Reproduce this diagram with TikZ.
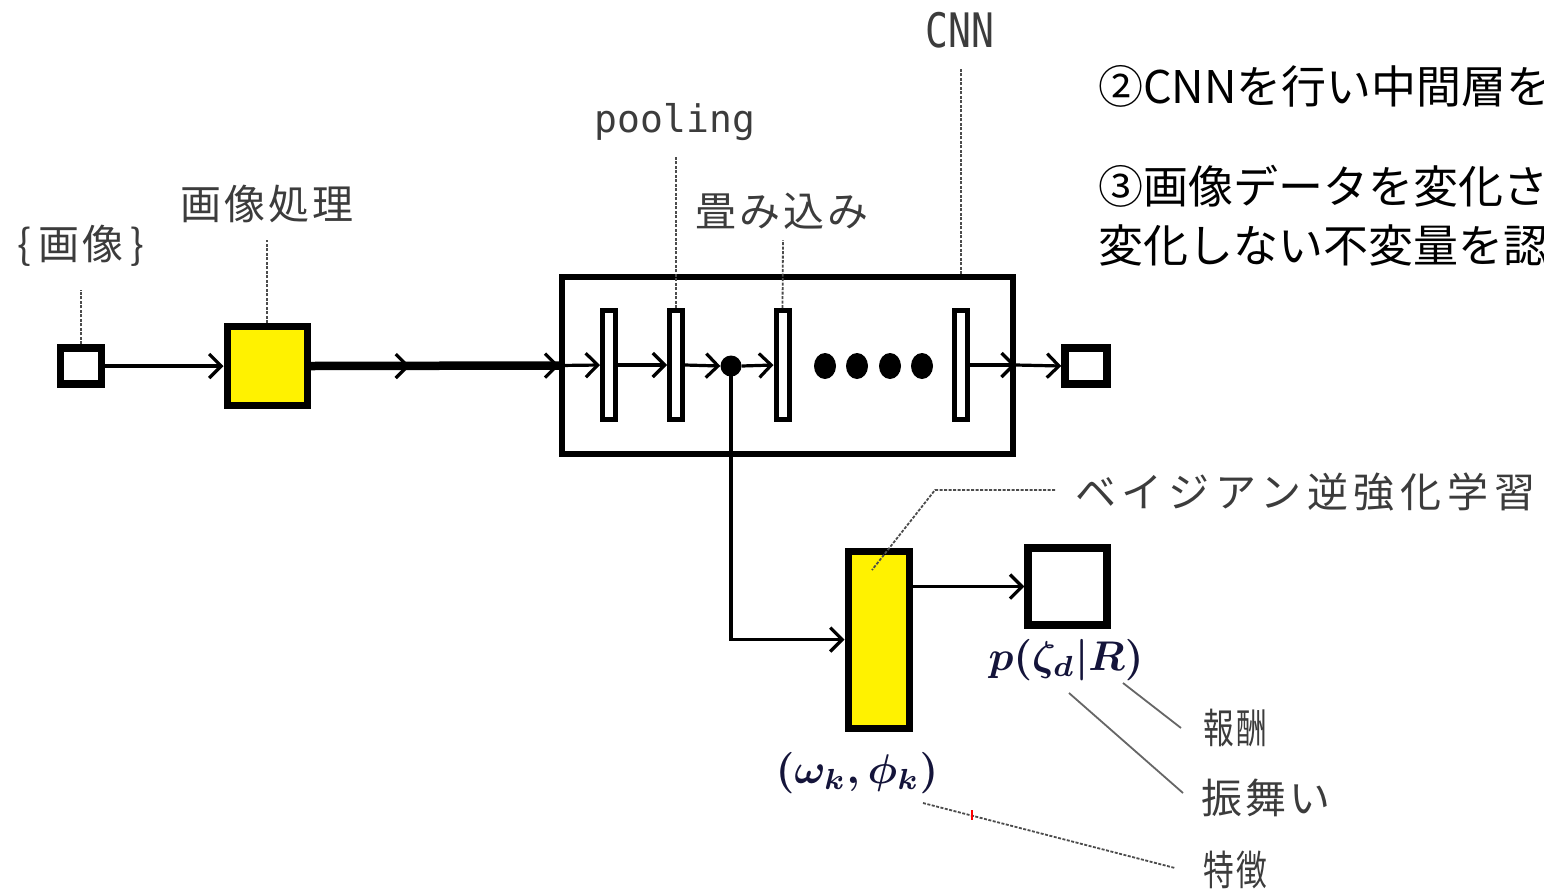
\documentclass[tikz,border=0pt]{standalone}
\usepackage{fontspec}
\newfontfamily\jp{Noto Sans CJK JP}
\newfontfamily\jpsp[LetterSpace=8]{Noto Sans CJK JP}
\newfontfamily\mono{DejaVu Sans Mono}
\usetikzlibrary{arrows.meta,calc,shapes.geometric}
\definecolor{lblgray}{HTML}{3C3C3C}
\definecolor{mathnavy}{HTML}{14143A}
\tikzset{
  bx/.style={draw=black, line width=7.5pt, inner sep=0pt, fill=white},
  ybx/.style={bx, fill=yellow, line width=7pt},
  barbox/.style={draw=black, line width=5pt, fill=white, inner sep=0pt, minimum width=13pt, minimum height=109pt},
  arr/.style={line width=3.2pt, -{Straight Barb[length=12pt,width=24pt,line width=3.2pt]}},
  lead/.style={draw=black!70, line width=1.8pt, dash pattern=on 3pt off 1.5pt},
  solidlead/.style={draw=black!60, line width=1.8pt},
  lbl/.style={text=lblgray, font=\jpsp\fontsize{41}{44}\selectfont, inner sep=0pt},
  monolbl/.style={text=lblgray, font=\mono\fontsize{38}{42}\selectfont, inner sep=0pt},
  rtxt/.style={text=black, font=\jp\fontsize{45}{48}\selectfont, inner sep=0pt, anchor=west},
  mathlbl/.style={text=mathnavy, font=\fontsize{10}{12}\selectfont\boldmath, inner sep=0pt, scale=4.15},
  bigdot/.style={ellipse, fill=black, inner sep=0pt, minimum width=22pt, minimum height=26pt},
}
\begin{document}
\begin{tikzpicture}[x=1pt,y=-1pt]
\useasboundingbox (0,0) rectangle (1544,895);
\clip (0,0) rectangle (1544,895);
\fill[white] (0,0) rectangle (1544,895);

% main boxes
\node[bx, minimum width=41pt, minimum height=36pt] (in) at (81,366) {};
\node[ybx, minimum width=80pt, minimum height=79pt] (yb) at (267,366) {};
\node[draw=black, line width=5.5pt, inner sep=0pt, minimum width=451pt, minimum height=177pt] (cnn) at (787.5,365.5) {};
\node[barbox] (b1) at (609,365) {};
\node[barbox] (b2) at (676,365) {};
\node[barbox] (b3) at (782.5,365) {};
\node[barbox] (b4) at (961,365) {};
\node[circle, fill=black, inner sep=0pt, minimum size=21pt] (dot) at (731,366) {};
\node[bigdot] (d1) at (825,366) {};
\node[bigdot] (d2) at (857,366) {};
\node[bigdot] (d3) at (890,366) {};
\node[bigdot] (d4) at (922,366) {};
\node[bx, minimum width=42pt, minimum height=36pt] (out) at (1086,366) {};
\node[ybx, minimum width=61pt, minimum height=177pt] (yb2) at (878.5,639.5) {};
\node[bx, minimum width=79pt, minimum height=77pt] (wb) at (1067.5,586.5) {};

% connectors
\coordinate (m1) at (410,366);
\draw[arr] (in) -- (yb);
\draw[line width=8.5pt] (yb.east) -- (cnn.west);
\draw[arr] (yb.east) -- (m1);
\draw[arr] (m1) -- (cnn.west);
\draw[arr] (cnn.west) -- (b1.west);
\draw[arr] (b1.east) -- (b2.west);
\draw[arr] (b2.east) -- (dot.west);
\draw[arr] (dot.east) -- (b3.west);
\draw[arr] (b4.east) -- (b4.east -| cnn.east);
\draw[arr] (b4.east -| cnn.east) -- (out.west);
\draw[arr] (dot.center) |- (yb2.west);
\draw[arr] (yb2.east |- wb.west) -- (wb.west);

% labels top-left
\node[lbl] (limg) at (81,246) {\{\hspace{7pt}画\hspace{3pt}像\hspace{7pt}\}};
\node[lbl] (lproc) at (267,204) {画像処理};
\node[monolbl] (lpool) at (675,122) {pooling};
\node[lbl] (lconv) at (782,211) {畳み込み};
\node[text=lblgray, font=\mono\fontsize{38}{42}\selectfont, inner sep=0pt, yscale=1.25] (lcnn) at (960,30) {CNN};

% leaders top
\draw[lead] (in.north) -- (81,290);
\draw[lead] (yb.north) -- (267,240);
\draw[lead] (b2.north) -- (676,155);
\draw[lead] (b3.north) -- (783,240);
\draw[lead] (b4.north |- cnn.north) -- (961,68);

% right text (cut off at the right edge, as in the reference)
\node[rtxt] (t1) at (1098,86) {②CNNを行い中間層を};
\node[rtxt] (t2) at (1098,186) {③画像データを変化さ};
\node[rtxt] (t3) at (1098,245) {変化しない不変量を認};

% lower labels
\node[lbl, anchor=west, font=\jp\fontsize{41}{44}\selectfont] (lbirl) at (1075,492) {\addfontfeature{LetterSpace=14}ベイジアン逆強化学習};
\coordinate (kb) at (935,490);
\draw[lead] ($(lbirl.west)+(-20,-2)$) -- (kb) -- (872,570);

\node[mathlbl] (lp) at (1066,660) {$p(\zeta_d|R)$};
\node[mathlbl] (lw) at (857,773) {$(\omega_k,\phi_k)$};

\node[lbl, anchor=west, xscale=0.75] (lrew) at (1203,728) {報酬};
\node[lbl, anchor=west] (lbeh) at (1201,798) {振舞い};
\node[lbl, anchor=west, xscale=0.75] (lfeat) at (1203,870) {特徴};

\draw[solidlead] (1123,683) -- ($(lrew.west)+(-22,0)$);
\draw[solidlead] (1069,693) -- ($(lbeh.west)+(-18,-5)$);
\draw[lead] (923,803) -- ($(lfeat.west)+(-28,-2)$);
\draw[red, line width=2pt] (972,810) -- (972,820);
\end{tikzpicture}
\end{document}
